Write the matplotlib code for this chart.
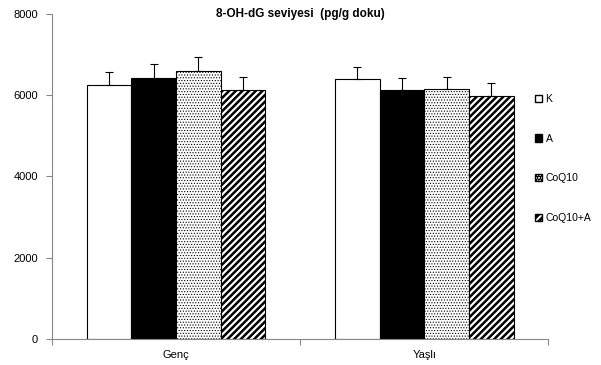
import numpy as np
import matplotlib.pyplot as plt
from matplotlib.patches import Patch

plt.rcParams['font.family'] = ['Liberation Sans', 'DejaVu Sans']
plt.rcParams['hatch.linewidth'] = 2.0

# 8-OH-dG levels per group (pg/g tissue)
groups = ['Genç', 'Yaşlı']
series = ['K', 'A', 'CoQ10', 'CoQ10+A']
means = {
    'K':       [6250, 6400],
    'A':       [6420, 6120],
    'CoQ10':   [6600, 6150],
    'CoQ10+A': [6130, 5990],
}
errs = {
    'K':       [320, 300],
    'A':       [350, 300],
    'CoQ10':   [340, 300],
    'CoQ10+A': [320, 320],
}
faces = ['white', 'black', 'white', 'white']
hatches = [None, None, '......', '/////']
hatch_lw = [1.0, 1.0, 0.5, 1.8]

fig = plt.figure(figsize=(6.01, 3.65), dpi=100)
ax = fig.add_axes([0.0865, 0.071, 0.826, 0.891])

x = np.arange(len(groups))
w = 0.18
for i, s in enumerate(series):
    pos = x + (i - 1.5) * w
    bars = ax.bar(pos, means[s], w, color=faces[i], edgecolor='black', linewidth=0.8,
                  hatch=hatches[i], zorder=2)
    for b in bars:
        b.set_hatch_linewidth(hatch_lw[i])
    ax.errorbar(pos, means[s], yerr=[np.zeros(2), errs[s]], fmt='none',
                ecolor='black', elinewidth=0.8, capsize=3, capthick=0.8, zorder=3)

ax.set_xlim(-0.5, 1.5)
ax.set_ylim(0, 8000)
ax.set_yticks([0, 2000, 4000, 6000, 8000])
ax.set_xticks([-0.5, 0.5, 1.5], minor=False)
ax.set_xticklabels([])
ax.set_xticks(x, minor=True)
ax.set_xticklabels(groups, minor=True)
ax.tick_params(axis='x', which='minor', length=0, pad=8, labelsize=8)
ax.tick_params(axis='x', which='major', length=4, color='#888888', direction='out')
ax.tick_params(axis='y', length=4, color='#888888', labelsize=8, pad=6)

for side in ['top', 'right']:
    ax.spines[side].set_visible(False)
for side in ['left', 'bottom']:
    ax.spines[side].set_color('#888888')
    ax.spines[side].set_linewidth(0.8)

ax.text(0.5, 1.0, '8-OH-dG seviyesi  (pg/g doku)', transform=ax.transAxes,
        ha='center', va='center', fontsize=8.5, fontweight='bold')

handles = []
for i, s in enumerate(series):
    p = Patch(facecolor=faces[i], edgecolor='black', hatch=hatches[i], label=s)
    p.set_hatch_linewidth(hatch_lw[i])
    handles.append(p)
ax.legend(handles=handles, loc='center left', bbox_to_anchor=(0.965, 0.555),
          frameon=False, fontsize=7.5, handlelength=0.7, handleheight=0.7,
          handletextpad=0.3, labelspacing=2.85, borderaxespad=0)

fig.savefig('out.png', dpi=100)
